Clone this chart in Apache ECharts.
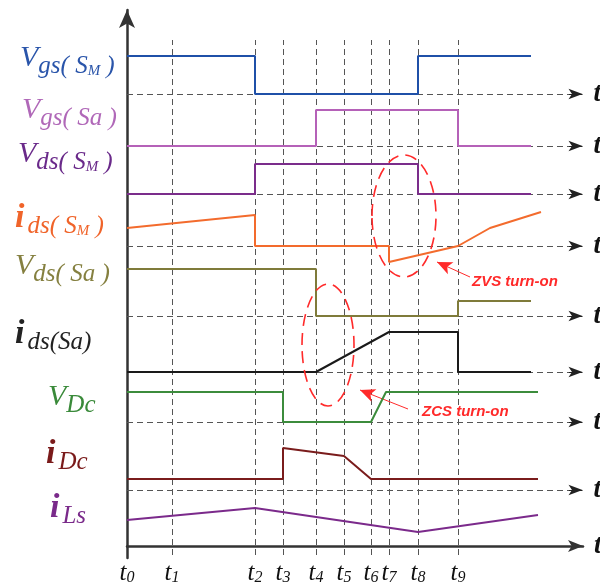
<!DOCTYPE html>
<html><head><meta charset="utf-8">
<script src="https://cdn.jsdelivr.net/npm/echarts@6/dist/echarts.min.js"></script>
<style>html,body{margin:0;padding:0;background:#fff}#c{width:600px;height:583px}</style>
</head><body><div id="c"></div>
<script>
// ---- data (time in arbitrary units, levels relative to each trace's baseline) ----
const tickNames = ['0','1','2','3','4','5','6','7','8','9'];
const tickTimes = [0, 45, 128, 156, 189, 217, 244, 262, 291, 331];
const vgsSM = [[0,38],[128,38],[128,0],[291,0],[291,38],[404,38]];
const vgsSa = [[0,0],[189,0],[189,36],[331,36],[331,0],[404,0]];
const vdsSM = [[0,0],[128,0],[128,30],[291,30],[291,0],[404,0]];
const idsSM = [[0,18],[128,31],[128,0],[262,0],[262,-16],[331,0],[363,18],[414,34]];
const vdsSa = [[0,47],[189,47],[189,0],[331,0],[331,15],[404,15]];
const idsSa = [[0,0],[189,0],[262,40],[331,40],[331,0],[404,0]];
const vDc   = [[0,30],[156,30],[156,0],[244,0],[259,30],[411,30]];
const iDc   = [[0,11],[156,11],[156,42],[217,34],[244,11],[411,11]];
const iLs   = [[0,26],[128,38],[291,14],[411,31]];

// ---- layout ----
const SERIF = '"Liberation Serif","DejaVu Serif",serif';
const baselines = [452, 400, 352, 300, 230, 174, 124, 56, 0];
const traces = [
  {d: vgsSM, c:'#1f50a8'}, {d: vgsSa, c:'#b561b8'}, {d: vdsSM, c:'#7b2d8b'},
  {d: idsSM, c:'#f36b2d'}, {d: vdsSa, c:'#7f7b3a'}, {d: idsSa, c:'#1a1a1a'},
  {d: vDc, c:'#3c8c3c'}, {d: iDc, c:'#7a1c1c'}, {d: iLs, c:'#7b2a8b'}
];
const XMAX = 456;

const chart = echarts.init(document.getElementById('c'));
const series = [];
traces.forEach((t,i)=>{
  series.push({type:'line', data:t.d.map(p=>[p[0], p[1]+baselines[i]]), showSymbol:false,
    lineStyle:{color:t.c, width:2}, z:5, silent:true, animation:false});
});
// guide lines
const vLines = tickTimes.slice(1).map(t=>[{coord:[t,-9],symbol:'none'},{coord:[t,506],symbol:'none'}]);
const hLines = baselines.slice(0,8).map(b=>[{coord:[0,b],symbol:'none'},{coord:[XMAX-12,b],symbol:'none'}]);
const hArrows = baselines.slice(0,8).map(b=>[{coord:[XMAX-14,b],symbol:'none'},{coord:[XMAX-0.5,b],symbol:'arrow'}]);
series.push({type:'line', data:[], silent:true, animation:false, z:2,
  markLine:{silent:true, animation:false, symbol:'none',
    label:{show:false}, lineStyle:{color:'#555', width:1, type:[6,4]},
    data: vLines.concat(hLines)}});
series.push({type:'line', data:[], silent:true, animation:false, z:3,
  markLine:{silent:true, animation:false, symbolSize:[8,14],
    label:{show:true, position:'end', formatter:'t', distance:11, color:'#111',
      fontFamily:SERIF, fontStyle:'italic', fontWeight:'bold', fontSize:27},
    lineStyle:{color:'#222', width:1, type:'solid'},
    data: hArrows}});
// annotation arrows
const annoArrows = [[[343,269],[310,284]], [[281,137],[233,156]]];
series.push({type:'line', data:[], silent:true, animation:false, z:6,
  markLine:{silent:true, animation:false, symbolSize:[10,15], label:{show:false},
    lineStyle:{color:'#ff2a2a', width:1, type:'solid'},
    data: annoArrows.map(a=>[{coord:a[0],symbol:'none'},{coord:a[1],symbol:'arrow'}])}});

chart.setOption({
  animation:false,
  grid:{left:127, right:17, top:10, bottom:25, containLabel:false, outerBoundsMode:'none'},
  xAxis:{type:'value', min:0, max:XMAX,
    axisLine:{onZero:true, symbol:['none','arrow'], symbolSize:[9,15], lineStyle:{color:'#333', width:2.5}},
    axisTick:{show:false}, splitLine:{show:false},
    name:'t', nameLocation:'end', nameGap:11,
    nameTextStyle:{fontFamily:SERIF, fontStyle:'italic', fontWeight:'bold', fontSize:27, color:'#111', verticalAlign:'middle'},
    axisLabel:{customValues:tickTimes, margin:6, showMinLabel:true, showMaxLabel:true,
      formatter:(v)=>{const i=tickTimes.indexOf(v); return '{a|t}{b|'+tickNames[i]+'}';},
      rich:{a:{fontFamily:SERIF, fontStyle:'italic', fontSize:25, lineHeight:22, color:'#111', verticalAlign:'bottom'},
            b:{fontFamily:SERIF, fontStyle:'italic', fontSize:16, lineHeight:16, color:'#111', verticalAlign:'bottom'}}}
  },
  yAxis:{type:'value', min:-12, max:536,
    axisLine:{onZero:true, symbol:['none','arrow'], symbolSize:[12,18], lineStyle:{color:'#333', width:2.5}},
    axisTick:{show:false}, axisLabel:{show:false}, splitLine:{show:false}},
  series: series
});

// ---- labels & annotations ----
function richLabel(parts, color, bigSize, subSize, smallSize){
  const rich = {
    B:{fontFamily:SERIF, fontStyle:'italic', fontSize:bigSize, lineHeight:bigSize, fill:color, verticalAlign:'bottom', padding:[0,0,6,0]},
    I:{fontFamily:SERIF, fontStyle:'italic', fontWeight:'bold', fontSize:bigSize+4, lineHeight:bigSize+4, fill:color, verticalAlign:'bottom', padding:[0,3,4,0]},
    s:{fontFamily:SERIF, fontStyle:'italic', fontSize:subSize, lineHeight:subSize, fill:color, verticalAlign:'bottom'},
    m:{fontFamily:SERIF, fontStyle:'italic', fontSize:smallSize, lineHeight:smallSize, fill:color, verticalAlign:'bottom'}
  };
  return {text: parts.map(p=>'{'+p[1]+'|'+p[0]+'}').join(''), rich};
}
const labels = [
  {p:[['V','B'],['gs( ','s'],['S','s'],['M','m'],[' )','s']], c:'#2a55aa', x:20, y:64},
  {p:[['V','B'],['gs( ','s'],['Sa','s'],[' )','s']], c:'#b068b8', x:22, y:116},
  {p:[['V','B'],['ds( ','s'],['S','s'],['M','m'],[' )','s']], c:'#6a2a8a', x:18, y:160},
  {p:[['i','I'],['ds( ','s'],['S','s'],['M','m'],[' )','s']], c:'#f0642a', x:15, y:222},
  {p:[['V','B'],['ds( ','s'],['Sa','s'],[' )','s']], c:'#858040', x:15, y:272},
  {p:[['i','I'],['ds(Sa)','s']], c:'#222222', x:15, y:338},
  {p:[['V','B'],['Dc','s']], c:'#3a8a3a', x:48, y:403},
  {p:[['i','I'],['Dc','s']], c:'#7a1a1a', x:46, y:458},
  {p:[['i','I'],['Ls','s']], c:'#7a2a8a', x:50, y:512}
];
const graphic = labels.map(l=>{
  const r = richLabel(l.p, l.c, 30, 25, 15);
  return {type:'text', x:l.x, y:l.y, silent:true,
    style:{text:r.text, rich:r.rich, fill:l.c, align:'left', verticalAlign:'middle'}};
});
const ellipses = [{c:[277,330], rx:32, ry:61}, {c:[201,201], rx:26, ry:61}];
ellipses.forEach(e=>{
  const p = chart.convertToPixel({gridIndex:0}, e.c);
  graphic.push({type:'ellipse', silent:true, shape:{cx:p[0], cy:p[1], rx:e.rx, ry:e.ry},
    style:{fill:'none', stroke:'#ff2a2a', lineWidth:1.6, lineDash:[12,7]}, z:10});
});
const notes = [{t:'ZVS turn-on', c:[345,264]}, {t:'ZCS turn-on', c:[295,134]}];
notes.forEach(n=>{
  const p = chart.convertToPixel({gridIndex:0}, n.c);
  graphic.push({type:'text', x:p[0], y:p[1], silent:true, z:10,
    style:{text:n.t, fill:'#ff2a2a', font:'italic bold 15px "Liberation Sans", Arial, sans-serif', align:'left', verticalAlign:'middle'}});
});
chart.setOption({graphic: graphic});
</script></body></html>
